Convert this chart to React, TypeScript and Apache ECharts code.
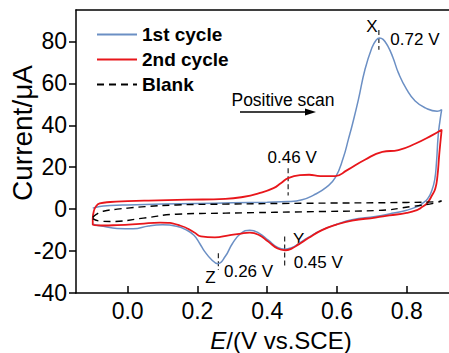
import React, { useEffect, useRef } from 'react';
import * as echarts from 'echarts';

// Potential (V vs. SCE) / current (µA) pairs, in scan order
const cycle1: number[][] = [
  [-0.1, 0.5], [-0.08, 1.3], [-0.05, 1.7], [0.0, 2.0], [0.1, 2.4], [0.2, 2.7], [0.3, 3.0],
  [0.4, 3.3], [0.46, 3.6], [0.5, 4.5], [0.532, 6.6], [0.57, 10.5], [0.595, 15], [0.618, 24.5],
  [0.633, 33.5], [0.645, 41], [0.661, 52], [0.68, 66.5], [0.7, 77], [0.712, 80.6], [0.722, 81.7],
  [0.732, 81], [0.745, 78], [0.76, 72.5], [0.776, 65], [0.8, 57], [0.824, 51.6], [0.853, 48.3],
  [0.887, 46.7], [0.9, 47.5],
  [0.895, 42], [0.89, 35], [0.885, 22], [0.88, 14], [0.872, 9], [0.86, 5], [0.845, 2.8],
  [0.83, 1.2], [0.8, -0.5], [0.75, -2.3], [0.71, -3.5], [0.643, -5.1], [0.6, -7.2],
  [0.557, -9.9], [0.518, -13.5], [0.49, -16.5], [0.47, -18.4], [0.451, -19.1], [0.43, -18.3],
  [0.403, -14.8], [0.375, -11.3], [0.35, -10.1], [0.325, -11.5], [0.3, -16.5], [0.28, -22.5],
  [0.258, -26], [0.24, -24], [0.22, -20], [0.207, -16.5], [0.19, -12.5], [0.169, -10],
  [0.14, -8.2], [0.1, -7.5], [0.06, -8.0], [0.016, -9.4], [-0.03, -9.2], [-0.07, -8.2], [-0.1, -7.2],
];

const cycle2: number[][] = [
  [-0.1, -4.5], [-0.097, -1], [-0.09, 1.5], [-0.08, 2.7], [-0.05, 3.4], [0.0, 3.8], [0.06, 4.1],
  [0.17, 4.5], [0.28, 4.9], [0.33, 5.8], [0.375, 7.5], [0.418, 10], [0.44, 12.5], [0.46, 14.8],
  [0.494, 16.2], [0.52, 16.4], [0.552, 15.8], [0.595, 15.8], [0.628, 18.5], [0.68, 23.6],
  [0.73, 27.3], [0.776, 28.2], [0.824, 31.2], [0.872, 35.2], [0.9, 37.9],
  [0.897, 33], [0.893, 26], [0.888, 16], [0.882, 10], [0.872, 6.5], [0.858, 2.8], [0.84, 0.6],
  [0.829, -0.5], [0.8, -1.8], [0.75, -3.0], [0.71, -4.0], [0.643, -5.5], [0.6, -7.3],
  [0.557, -10], [0.518, -13.8], [0.49, -16.8], [0.47, -18.8], [0.451, -19.6], [0.43, -18.8],
  [0.403, -15.5], [0.375, -12.2], [0.35, -11.2], [0.32, -11.8], [0.29, -12.5], [0.25, -13.5],
  [0.21, -13], [0.19, -11], [0.15, -7.8], [0.093, -6.4], [0.035, -7], [-0.03, -7.6],
  [-0.07, -7.8], [-0.1, -7.5], [-0.1, -4.5],
];

const blank: number[][] = [
  [-0.1, -4.0], [-0.09, -2.5], [-0.07, -1.0], [-0.03, 0.0], [0.0, 0.5], [0.05, 1.2], [0.14, 2.0],
  [0.28, 2.4], [0.5, 2.8], [0.8, 3.2], [0.89, 3.6], [0.9, 4.0],
  [0.88, 2.9], [0.815, 1.3], [0.72, -0.6], [0.566, -1.1], [0.28, -1.9], [0.14, -2.4],
  [0.045, -4.3], [-0.05, -5.9], [-0.08, -5.7], [-0.1, -4.5],
];

const seriesNames = ['1st cycle', '2nd cycle', 'Blank'];
const eTicks = [0, 0.2, 0.4, 0.6, 0.8];
const iTicks = [-40, -20, 0, 20, 40, 60, 80];

// Peak annotations
const markPotentials = [0.72, 0.46, 0.45, 0.26];
const markTexts = ['0.72 V', '0.46 V', '0.45 V', '0.26 V'];
const markLetters = ['X', '', 'Y', 'Z'];
const markSpans = [[76, 85.5], [6.5, 19.5], [-27.5, -13], [-29, -21]];

export default function App() {
  const ref = useRef<HTMLDivElement>(null);
  useEffect(() => {
    const chart = echarts.init(ref.current!, null, { renderer: 'svg' });
    const font = "'Liberation Sans', Arial, sans-serif";
    const axisLine = { show: true, onZero: false, lineStyle: { color: '#000', width: 1.5 } };
    chart.setOption({
      animation: false,
      backgroundColor: '#fff',
      textStyle: { fontFamily: font },
      grid: { left: 76, top: 10, right: 0, bottom: 60 },
      legend: {
        data: seriesNames,
        orient: 'vertical',
        left: 96,
        top: 25,
        padding: 0,
        itemWidth: 40,
        itemHeight: 19,
        itemGap: 6,
        itemStyle: { opacity: 0 },
        textStyle: { fontSize: 19, fontWeight: 'bold', color: '#000', fontFamily: font, lineHeight: 19 },
      },
      xAxis: [
        {
          type: 'value', min: -0.148, max: 0.921, position: 'bottom',
          axisLine,
          splitLine: { show: false },
          axisTick: { show: true, inside: true, length: 7, lineStyle: { color: '#000', width: 1.5 }, customValues: eTicks },
          axisLabel: { fontSize: 23, color: '#000', margin: 6, fontFamily: font, customValues: eTicks, formatter: (v: number) => v.toFixed(1) },
        },
        {
          type: 'value', min: -0.148, max: 0.921, position: 'top',
          axisLine, splitLine: { show: false }, axisTick: { show: false }, axisLabel: { show: false },
        },
      ],
      yAxis: {
        type: 'value', min: -40, max: 95, position: 'left',
        axisLine,
        splitLine: { show: false },
        axisTick: { show: true, inside: false, length: 7, lineStyle: { color: '#000', width: 1.5 }, customValues: iTicks },
        axisLabel: { fontSize: 23, color: '#000', margin: 9, fontFamily: font, customValues: iTicks },
      },
      series: [
        { name: seriesNames[0], type: 'line', data: cycle1, symbol: 'none', smooth: 0.5, color: '#6b8fc4', lineStyle: { width: 1.5, color: '#6b8fc4' } },
        { name: seriesNames[1], type: 'line', data: cycle2, symbol: 'none', smooth: 0.5, color: '#e8161b', lineStyle: { width: 1.8, color: '#e8161b' } },
        { name: seriesNames[2], type: 'line', data: blank, symbol: 'none', smooth: 0.5, color: '#000', lineStyle: { width: 1.4, color: '#000', type: [7, 5] } },
      ],
    });

    const px = (e: number, i: number) => chart.convertToPixel({ xAxisIndex: 0, yAxisIndex: 0 }, [e, i]) as number[];
    const txt = (text: string, x: number, y: number, align = 'left', size = 17) => ({
      type: 'text', x, y, silent: true,
      style: { text, fontSize: size, fontFamily: font, fill: '#000', textAlign: align, textVerticalAlign: 'middle' },
    });
    // label offsets relative to each guide (layout only)
    const letterPos = [[-7, 26], [0, 0], [14, 239], [-8, 277]];
    const valuePos: [number, number, string][] = [[11.5, 39, 'left'], [4, 157, 'center'], [9, 262, 'left'], [5.6, 271, 'left']];
    const g: any[] = [];
    markPotentials.forEach((e, k) => {
      const [x, yA] = px(e, markSpans[k][1]);
      const yB = px(e, markSpans[k][0])[1];
      g.push({ type: 'line', silent: true, shape: { x1: x, y1: yA, x2: x, y2: yB }, style: { stroke: '#222', lineWidth: 1.2, lineDash: [5, 3] } });
      if (markLetters[k]) g.push(txt(markLetters[k], x + letterPos[k][0], letterPos[k][1], 'center'));
      g.push(txt(markTexts[k], x + valuePos[k][0], valuePos[k][1], valuePos[k][2]));
    });
    g.push(txt('Positive scan', 283, 100, 'center', 17.5));
    g.push({ type: 'line', silent: true, shape: { x1: 240, y1: 112, x2: 308, y2: 112 }, style: { stroke: '#000', lineWidth: 1.5 } });
    g.push({ type: 'polygon', silent: true, shape: { points: [[305, 108.5], [316, 112], [305, 115.5]] }, style: { fill: '#000' } });
    g.push({
      type: 'text', x: 22, y: 133, rotation: Math.PI / 2, silent: true,
      style: { text: 'Current/μA', fontSize: 28, fontFamily: font, fill: '#000', textAlign: 'center', textVerticalAlign: 'middle' },
    });
    g.push({
      type: 'text', x: 281, y: 340, silent: true,
      style: {
        text: '{i|E}/(V vs.SCE)', fontSize: 24, fontFamily: font, fill: '#000', textAlign: 'center', textVerticalAlign: 'middle',
        rich: { i: { fontStyle: 'italic', fontSize: 24, fontFamily: font, fill: '#000' } },
      },
    });
    chart.setOption({ graphic: g });
    return () => chart.dispose();
  }, []);
  return <div ref={ref} style={{ position: 'fixed', left: 0, top: 0, width: 449, height: 353 }} />;
}
